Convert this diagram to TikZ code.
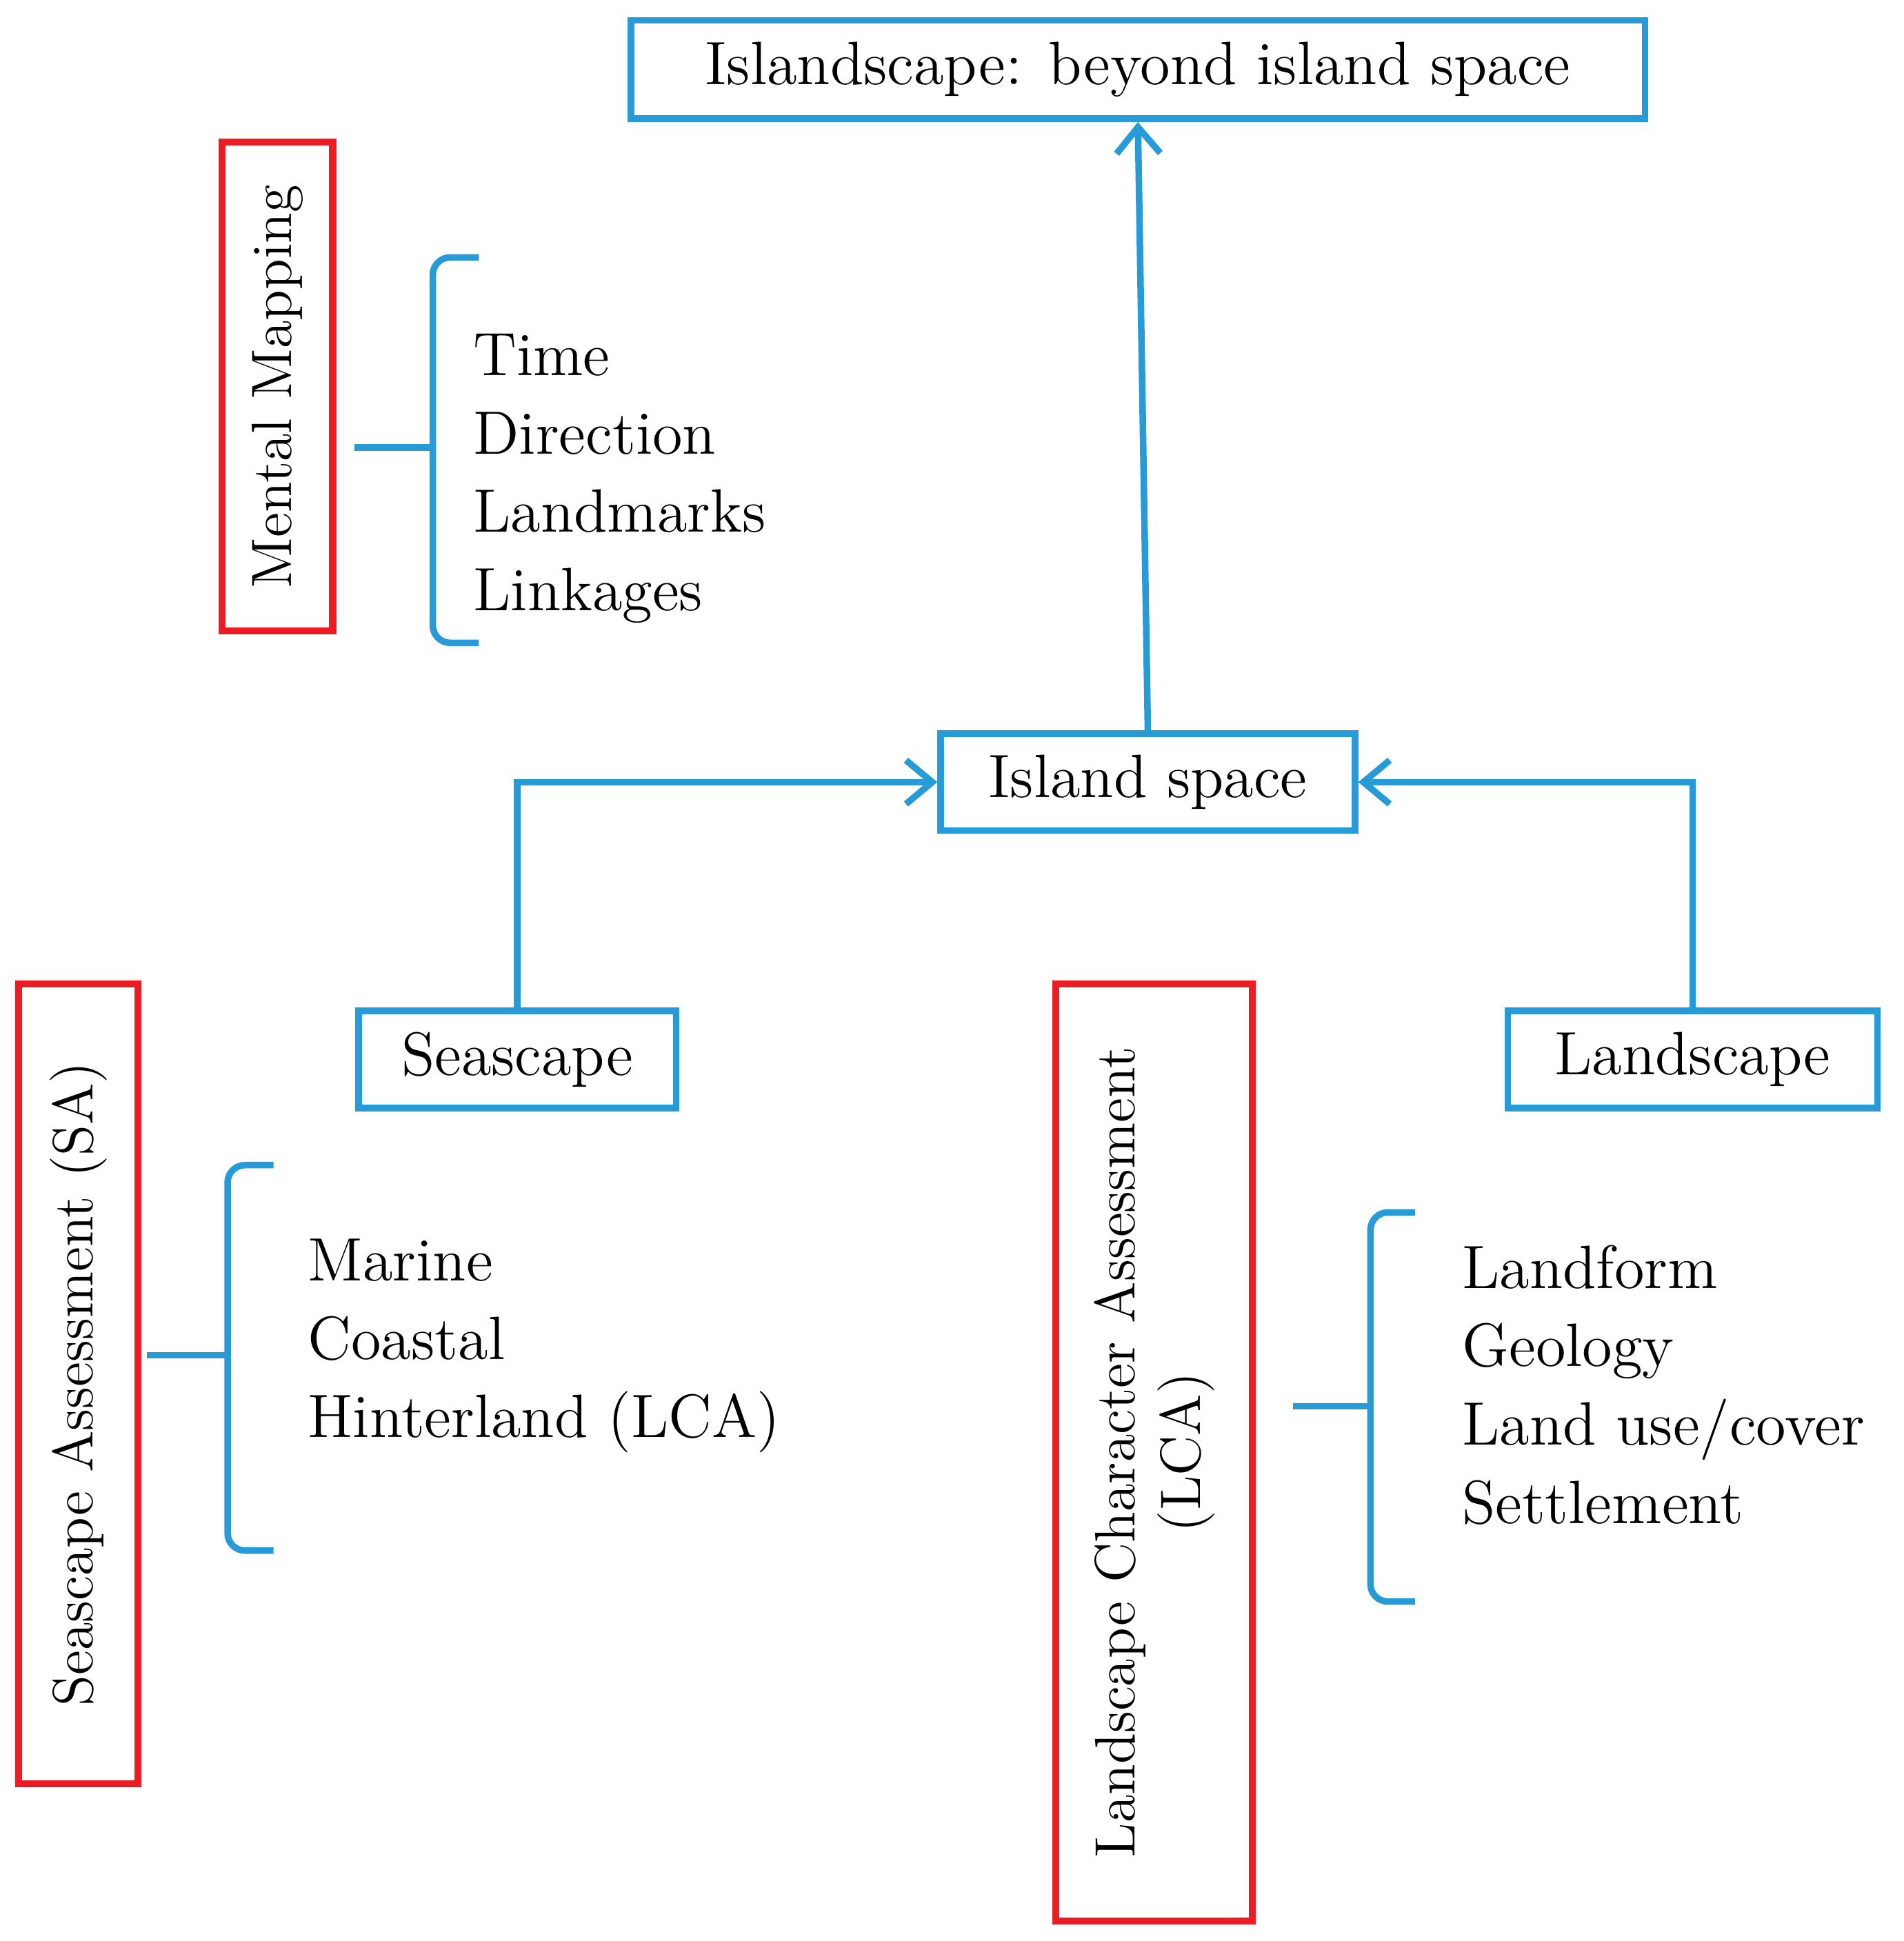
\documentclass[tikz,border=0pt]{standalone}
\usetikzlibrary{arrows.meta}
\definecolor{bl}{RGB}{38,155,215}
\definecolor{rd}{RGB}{235,28,36}
\begin{document}
\begin{tikzpicture}[x=0.01cm,y=-0.01cm,
  bbox/.style={draw=bl,line width=1.5pt,inner sep=0pt,font=\fontsize{14}{16}\selectfont},
  rbox/.style={draw=rd,line width=1.6pt,inner sep=0pt},
  item/.style={anchor=base west,inner sep=0pt,font=\fontsize{14}{16}\selectfont},
  rtext/.style={rotate=90,font=\fontsize{13}{15}\selectfont,align=center},
  conn/.style={draw=bl,line width=1.5pt},
  arr/.style={conn,-{Straight Barb[length=6pt,width=10pt]}},
  brace/.style={draw=bl,line width=1.5pt,rounded corners=4pt}]
\useasboundingbox (0,0) rectangle (1531,1561);
\node[bbox,minimum width=815\pgflinewidth/1.5pt*0.01cm*0+8.15cm,minimum height=0.79cm] (top) at (915,56) {Islandscape: beyond island space};
\node[bbox,minimum width=3.33cm,minimum height=0.78cm] (isl) at (923,629) {Island space};
\node[bbox,minimum width=2.55cm,minimum height=0.78cm] (sea) at (416,852) {Seascape};
\node[bbox,minimum width=2.97cm,minimum height=0.78cm] (land) at (1361,852) {Landscape};
\draw[arr] (isl.north) -- (top.south);
\draw[arr] (sea.north) |- (isl.west);
\draw[arr] (land.north) |- (isl.east);
% red boxes
\node[rbox,minimum width=0.89cm,minimum height=3.93cm] (mm) at (223,311) {};
\node[rtext] at (mm.center) {Mental Mapping};
\node[rbox,minimum width=0.96cm,minimum height=6.43cm] (sa) at (63,1113) {};
\node[rtext] at (sa.center) {Seascape Assessment (SA)};
\node[rbox,minimum width=1.58cm,minimum height=7.53cm] (lca) at (928,1168) {};
\node[rtext] at (lca.center) {Landscape Character Assessment\\(LCA)};
% braces
\coordinate (b1) at (285,360);
\draw[brace] (385,207) -- (348,207) -- (348,517) -- (385,517);
\draw[brace] (b1) -- (348,360);
\coordinate (b2) at (118,1090);
\draw[brace] (220,937) -- (183,937) -- (183,1247) -- (220,1247);
\draw[brace] (b2) -- (183,1090);
\coordinate (b3) at (1040,1131);
\draw[brace] (1138,975) -- (1102,975) -- (1102,1288) -- (1138,1288);
\draw[brace] (b3) -- (1102,1131);
% lists
\node[item] (t1) at (380,302) {Time};
\node[item] (t2) at (380,365) {Direction};
\node[item] (t3) at (380,428) {Landmarks};
\node[item] (t4) at (380,491) {Linkages};
\node[item] (s1) at (247,1030) {Marine};
\node[item] (s2) at (247,1093) {Coastal};
\node[item] (s3) at (247,1156) {Hinterland (LCA)};
\node[item] (l1) at (1175,1036) {Landform};
\node[item] (l2) at (1175,1099) {Geology};
\node[item] (l3) at (1175,1162) {Land use/cover};
\node[item] (l4) at (1175,1225) {Settlement};
\end{tikzpicture}
\end{document}
